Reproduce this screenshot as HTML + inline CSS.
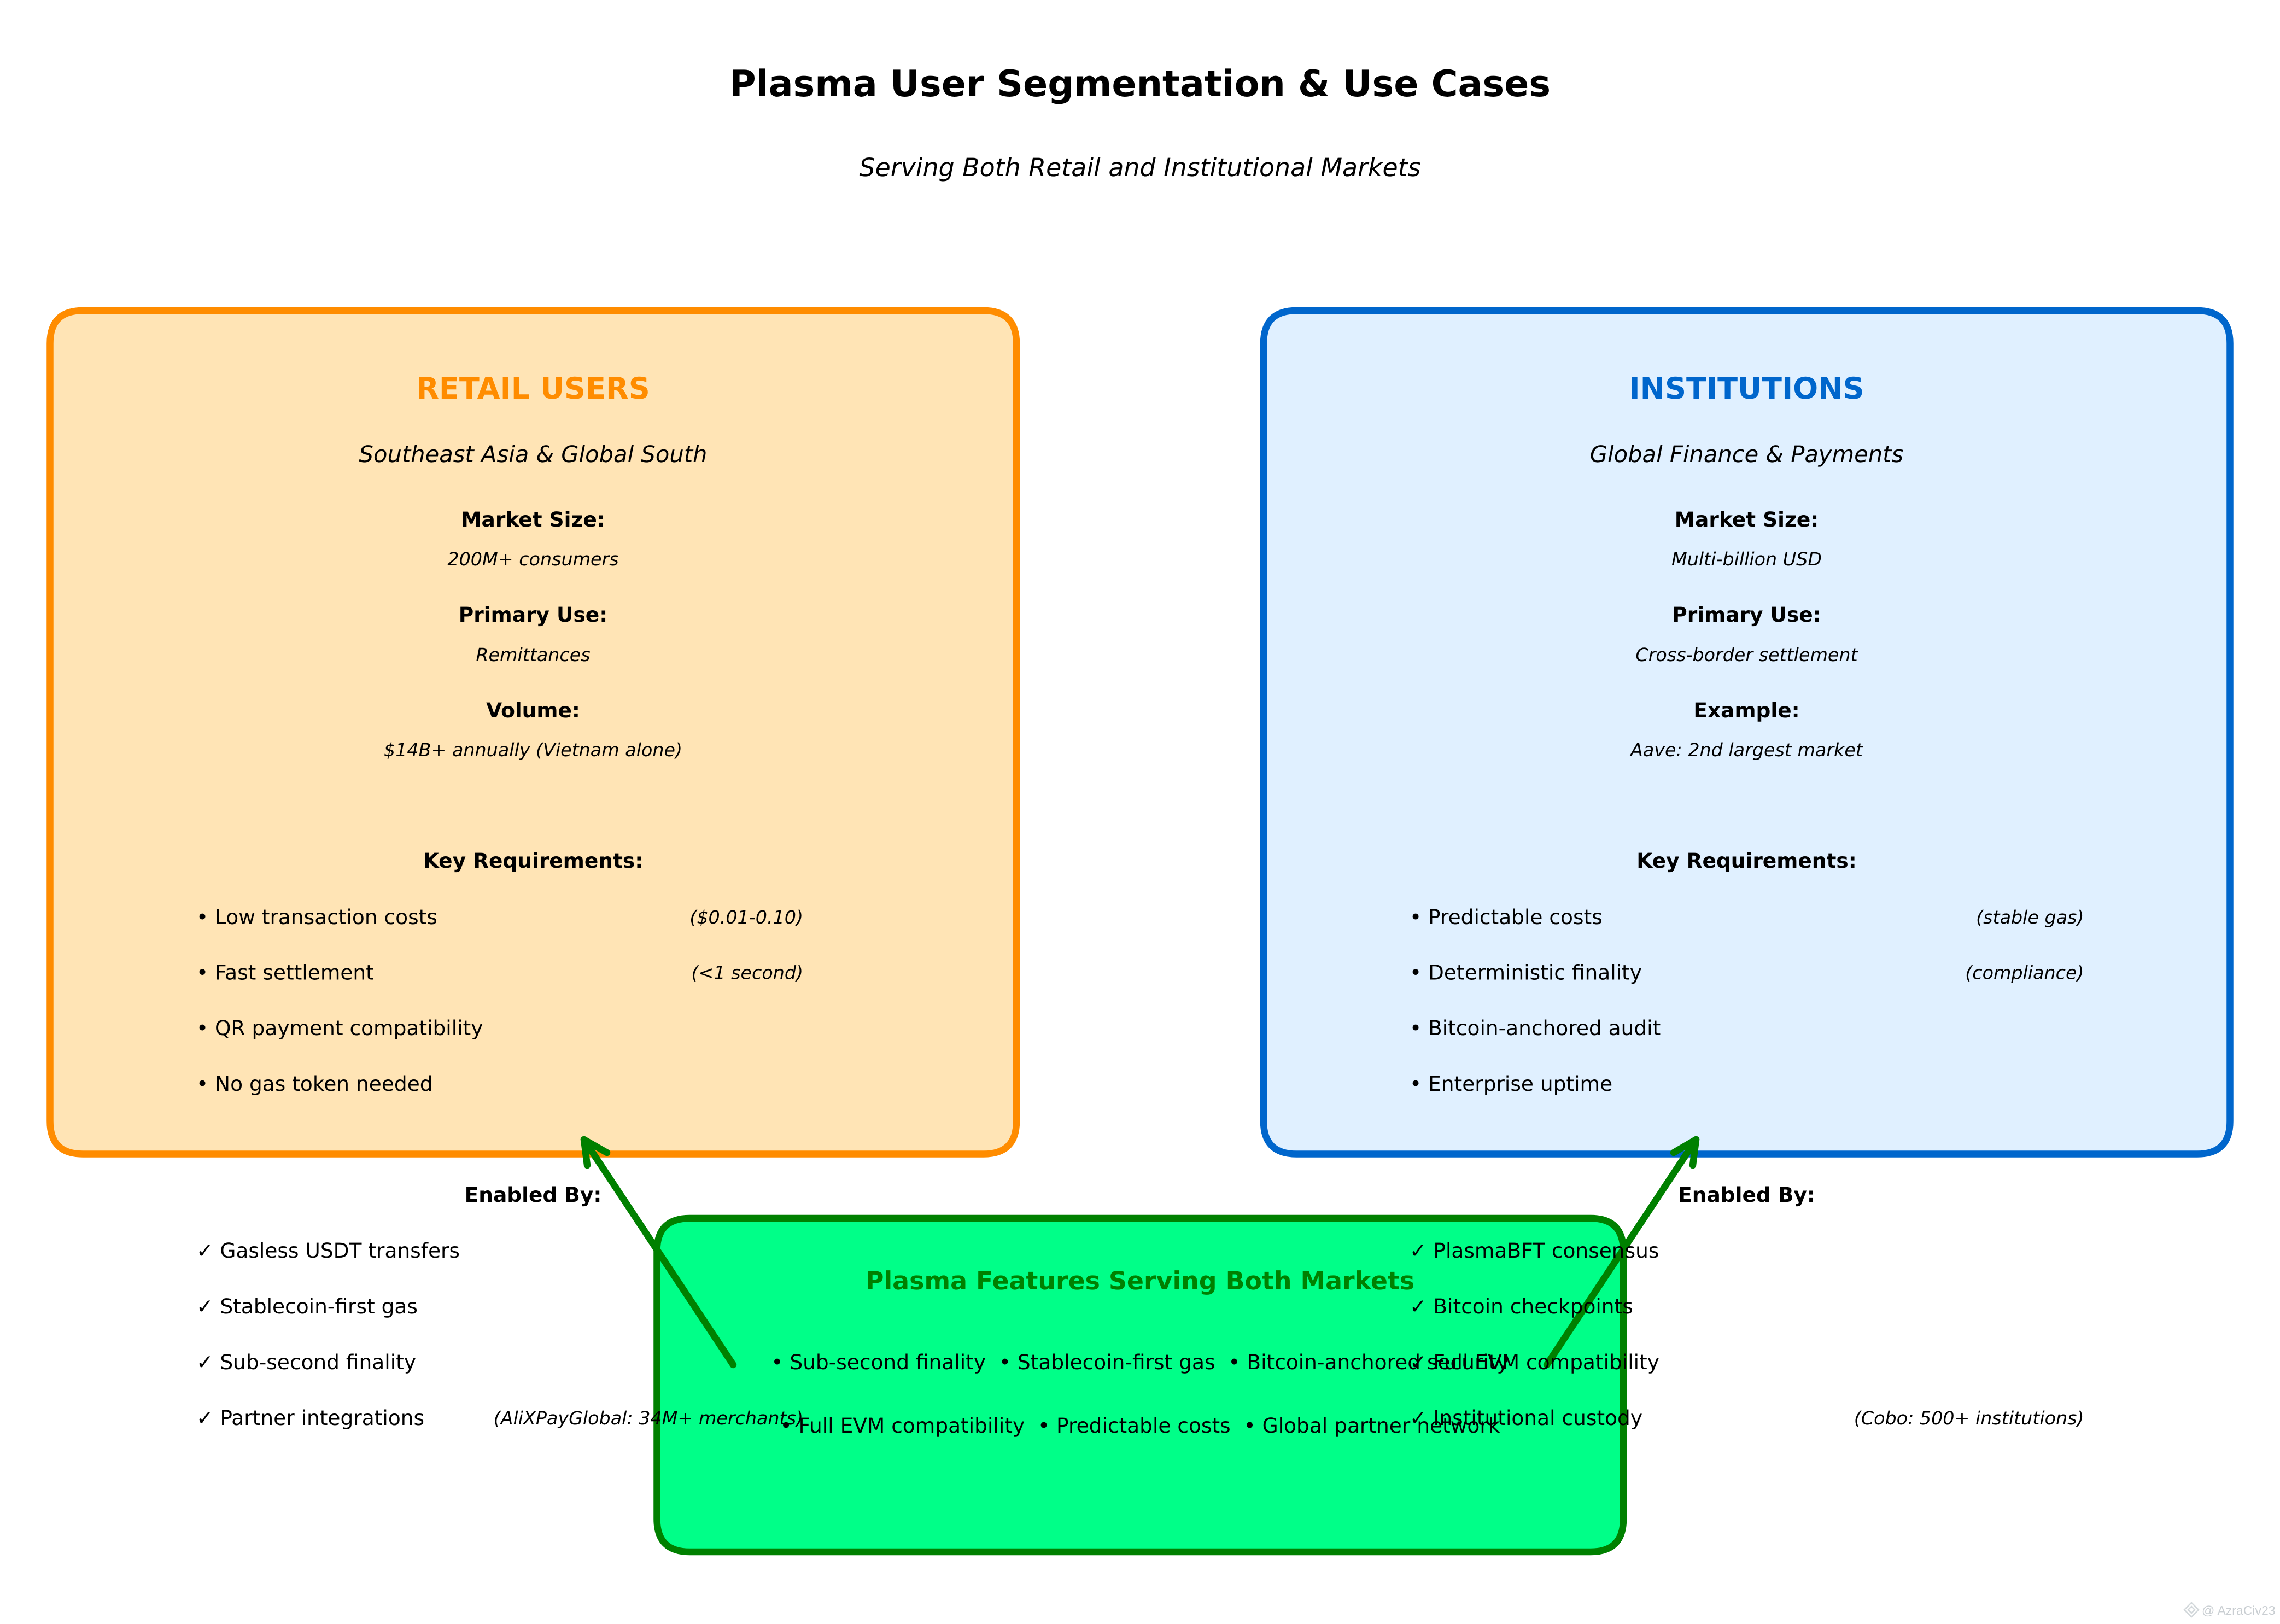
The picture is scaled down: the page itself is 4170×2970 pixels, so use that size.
<!DOCTYPE html>
<html lang="en">
<head>
<meta charset="utf-8">
<title>Plasma User Segmentation &amp; Use Cases</title>
<style>
html,body{margin:0;padding:0;background:#fff;width:4170px;height:2970px;overflow:hidden}
svg{display:block}
text{font-family:"DejaVu Sans","Liberation Sans",sans-serif;fill:#000;text-rendering:geometricPrecision;white-space:pre}
.c{text-anchor:middle}
.e{text-anchor:end}
.h{font-size:37.5px;font-weight:bold}
.s{font-size:33.33px;font-style:italic}
.b{font-size:37.5px}
.g{font-size:45.83px;font-style:italic}
.p{font-size:41.67px;font-style:italic}
.t{font-size:54.17px;font-weight:bold}
</style>
</head>
<body>
<svg width="4170" height="2970" viewBox="0 0 4170 2970" xmlns="http://www.w3.org/2000/svg">
<rect width="4170" height="2970" fill="#fff"/>

<!-- boxes -->
<path d="M151.5 568H1799Q1859 568 1859 628V2050.5Q1859 2110.5 1799 2110.5H151.5Q91.5 2110.5 91.5 2050.5V628Q91.5 568 151.5 568Z" fill="#FFE4B5" stroke="#FF8C00" stroke-width="12.5"/>
<path d="M2371 568H4018.5Q4078.5 568 4078.5 628V2050.5Q4078.5 2110.5 4018.5 2110.5H2371Q2311 2110.5 2311 2050.5V628Q2311 568 2371 568Z" fill="#E0F0FF" stroke="#0066CC" stroke-width="12.5"/>
<path d="M1261.5 2228H2909Q2969 2228 2969 2288V2778Q2969 2838 2909 2838H1261.5Q1201.5 2838 1201.5 2778V2288Q1201.5 2228 1261.5 2228Z" fill="#00FF88" stroke="#008000" stroke-width="12.5"/>

<!-- arrows -->
<g fill="none" stroke="#008000" stroke-width="12.5" stroke-linecap="round" stroke-linejoin="round">
<path d="M1341 2496L1068 2084"/>
<path d="M1110 2108L1068 2084L1074 2131"/>
<path d="M2829 2496L3102 2084"/>
<path d="M3061 2108L3102 2084L3096 2131"/>
</g>

<!-- title -->
<text class="c" x="2085" y="176" font-size="66.67" font-weight="bold">Plasma User Segmentation &amp; Use Cases</text>
<text class="c g" x="2085" y="322">Serving Both Retail and Institutional Markets</text>

<!-- retail -->
<text class="c t" x="975" y="729" style="fill:#FF8C00">RETAIL USERS</text>
<text class="c p" x="975" y="845">Southeast Asia &amp; Global South</text>
<text class="c h" x="975" y="963">Market Size:</text>
<text class="c s" x="975" y="1034">200M+ consumers</text>
<text class="c h" x="975" y="1137">Primary Use:</text>
<text class="c s" x="975" y="1209">Remittances</text>
<text class="c h" x="975" y="1312">Volume:</text>
<text class="c s" x="975" y="1383">$14B+ annually (Vietnam alone)</text>
<text class="c h" x="975" y="1587">Key Requirements:</text>
<text class="b" x="359" y="1690">• Low transaction costs</text>
<text class="s e" x="1469" y="1689">($0.01-0.10)</text>
<text class="b" x="359" y="1791.5">• Fast settlement</text>
<text class="s e" x="1469" y="1790.5">(&lt;1 second)</text>
<text class="b" x="359" y="1893">• QR payment compatibility</text>
<text class="b" x="359" y="1995">• No gas token needed</text>
<text class="c h" x="975" y="2198">Enabled By:</text>
<text class="b" x="359" y="2300">✓ Gasless USDT transfers</text>
<text class="b" x="359" y="2402">✓ Stablecoin-first gas</text>
<text class="b" x="359" y="2504">✓ Sub-second finality</text>
<text class="b" x="359" y="2606">✓ Partner integrations</text>
<text class="s e" x="1469" y="2605">(AliXPayGlobal: 34M+ merchants)</text>

<!-- institutions -->
<text class="c t" x="3194.5" y="729" style="fill:#0066CC">INSTITUTIONS</text>
<text class="c p" x="3194.5" y="845">Global Finance &amp; Payments</text>
<text class="c h" x="3194.5" y="963">Market Size:</text>
<text class="c s" x="3194.5" y="1034">Multi-billion USD</text>
<text class="c h" x="3194.5" y="1137">Primary Use:</text>
<text class="c s" x="3194.5" y="1209">Cross-border settlement</text>
<text class="c h" x="3194.5" y="1312">Example:</text>
<text class="c s" x="3194.5" y="1383">Aave: 2nd largest market</text>
<text class="c h" x="3194.5" y="1587">Key Requirements:</text>
<text class="b" x="2578" y="1690">• Predictable costs</text>
<text class="s e" x="3811.5" y="1689">(stable gas)</text>
<text class="b" x="2578" y="1791.5">• Deterministic finality</text>
<text class="s e" x="3811.5" y="1790.5">(compliance)</text>
<text class="b" x="2578" y="1893">• Bitcoin-anchored audit</text>
<text class="b" x="2578" y="1995">• Enterprise uptime</text>
<text class="c h" x="3194.5" y="2198">Enabled By:</text>
<text class="b" x="2578" y="2300">✓ PlasmaBFT consensus</text>
<text class="b" x="2578" y="2402">✓ Bitcoin checkpoints</text>
<text class="b" x="2578" y="2504">✓ Full EVM compatibility</text>
<text class="b" x="2578" y="2606">✓ Institutional custody</text>
<text class="s e" x="3811.5" y="2605">(Cobo: 500+ institutions)</text>

<!-- features -->
<text class="c" x="2085" y="2358" font-size="45.83" font-weight="bold" style="fill:#008000">Plasma Features Serving Both Markets</text>
<text class="c b" x="2085" y="2504">• Sub-second finality  • Stablecoin-first gas  • Bitcoin-anchored security</text>
<text class="c b" x="2085" y="2620">• Full EVM compatibility  • Predictable costs  • Global partner network</text>

<!-- watermark -->
<g fill="none" stroke="#d3d8db" stroke-width="2.5">
<path d="M4008 2931L4021 2944L4008 2957L3995 2944Z"/>
<path d="M4008 2938L4014 2944L4008 2950L4002 2944Z"/>
</g>
<text x="4027" y="2953" font-size="23" style="fill:#c9ced2;font-family:'Liberation Sans',sans-serif">@ AzraCiv23</text>
</svg>
</body>
</html>
